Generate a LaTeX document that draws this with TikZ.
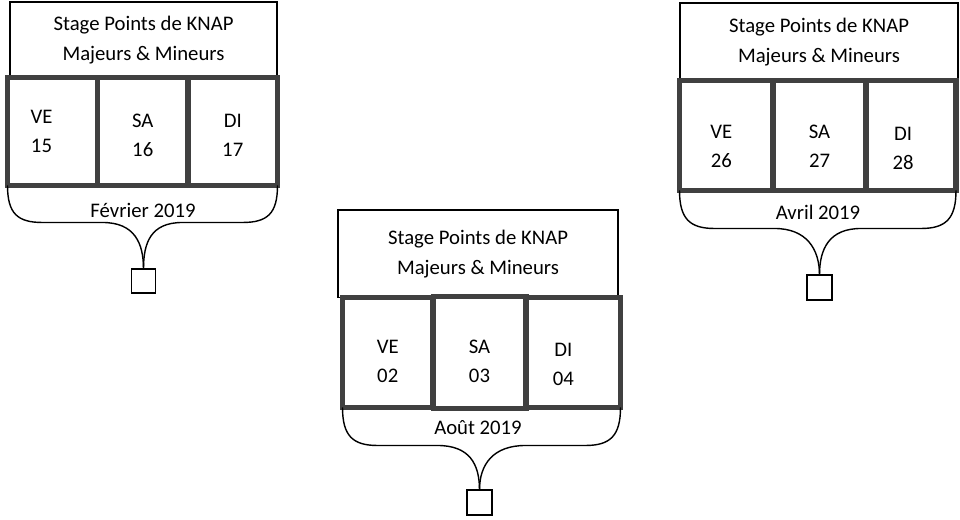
\documentclass[tikz,border=0pt]{standalone}
\usepackage{fontspec}
\setmainfont{Carlito}
\usepackage{tikz}
\usetikzlibrary{arrows,shapes}
\definecolor{daygray}{RGB}{64,64,64}

\begin{document}
\begin{tikzpicture}[x=0.02cm, y=-0.02cm,
  title/.style={draw, line width=.75pt, align=center, inner sep=0pt, font=\fontsize{11.8}{17}\selectfont},
  day/.style={draw=daygray, line width=2.85pt, inner sep=0pt, outer sep=0pt},
  daytext/.style={align=center, inner sep=0pt, font=\fontsize{11.8}{16.5}\selectfont},
  month/.style={font=\fontsize{11.8}{13}\selectfont},
  slot/.style={draw, line width=.75pt, inner sep=0pt, outer sep=0pt},
  brace/.style={line width=.8pt}]
  \useasboundingbox (0,0) rectangle (960,520);
  \node[title, minimum width=5.34cm, minimum height=1.51cm] (t1) at (143.5,39.75) {Stage Points de KNAP\\Majeurs \& Mineurs};
  \node[title, minimum width=5.6cm, minimum height=1.75cm] (t2) at (478,253.75) {Stage Points de KNAP\\Majeurs \& Mineurs};
  \node[title, minimum width=5.56cm, minimum height=1.55cm] (t3) at (819,41.75) {Stage Points de KNAP\\Majeurs \& Mineurs};
  \node[day, minimum width=1.8cm, minimum height=2.16cm, label={[daytext, xshift=-.22cm]center:VE\\15}] (a1) at (52.5,131.5) {};
  \node[day, minimum width=1.81cm, minimum height=2.16cm, label={[daytext, yshift=-.08cm]center:SA\\16}] (b1) at (142.75,131.5) {};
  \node[day, minimum width=1.79cm, minimum height=2.16cm, label={[daytext, yshift=-.08cm]center:DI\\17}] (c1) at (232.75,131.5) {};
  \node[day, minimum width=1.81cm, minimum height=2.2cm, label={[daytext, yshift=-.17cm]center:VE\\02}] (a2) at (387.75,352.5) {};
  \node[day, minimum width=1.86cm, minimum height=2.24cm, label={[daytext, yshift=-.17cm]center:SA\\03}] (b2) at (479.5,352.5) {};
  \node[day, minimum width=1.89cm, minimum height=2.2cm, label={[daytext, xshift=-.2cm, yshift=-.23cm]center:DI\\04}] (c2) at (573.25,352.5) {};
  \node[day, minimum width=1.87cm, minimum height=2.2cm, label={[daytext, xshift=-.1cm, yshift=-.21cm]center:VE\\26}] (a3) at (726.25,135.5) {};
  \node[day, minimum width=1.86cm, minimum height=2.2cm, label={[daytext, yshift=-.21cm]center:SA\\27}] (b3) at (819.5,135.5) {};
  \node[day, minimum width=1.8cm, minimum height=2.2cm, label={[daytext, xshift=-.16cm, yshift=-.26cm]center:DI\\28}] (c3) at (911,135.5) {};
  \node[month] (m1) at (143,210) {Février 2019};
  \node[month] (m2) at (478,428) {Août 2019};
  \node[month] (m3) at (818,212) {Avril 2019};
  \node[slot, minimum size=.48cm] (s1) at (143.5,281) {};
  \node[slot, minimum size=.5cm] (s2) at (479.5,502.5) {};
  \node[slot, minimum size=.5cm] (s3) at (819.5,287.5) {};
  \draw[brace] (a1.south west) .. controls +(0,28) and +(-25,0) .. ++(35,37) -- ++(60,0) .. controls +(32,0) and +(0,-26) .. (s1.north);
  \draw[brace] (c1.south east) .. controls +(0,28) and +(25,0) .. ++(-35,37) -- ++(-60,0) .. controls +(-32,0) and +(0,-26) .. (s1.north);
  \draw[brace] (a2.south west) .. controls +(0,28) and +(-25,0) .. ++(35,38) -- ++(60,0) .. controls +(32,0) and +(0,-26) .. (s2.north);
  \draw[brace] (c2.south east) .. controls +(0,28) and +(25,0) .. ++(-35,38) -- ++(-60,0) .. controls +(-32,0) and +(0,-26) .. (s2.north);
  \draw[brace] (a3.south west) .. controls +(0,28) and +(-25,0) .. ++(35,38) -- ++(60,0) .. controls +(32,0) and +(0,-26) .. (s3.north);
  \draw[brace] (c3.south east) .. controls +(0,28) and +(25,0) .. ++(-35,38) -- ++(-60,0) .. controls +(-32,0) and +(0,-26) .. (s3.north);
\end{tikzpicture}
\end{document}
